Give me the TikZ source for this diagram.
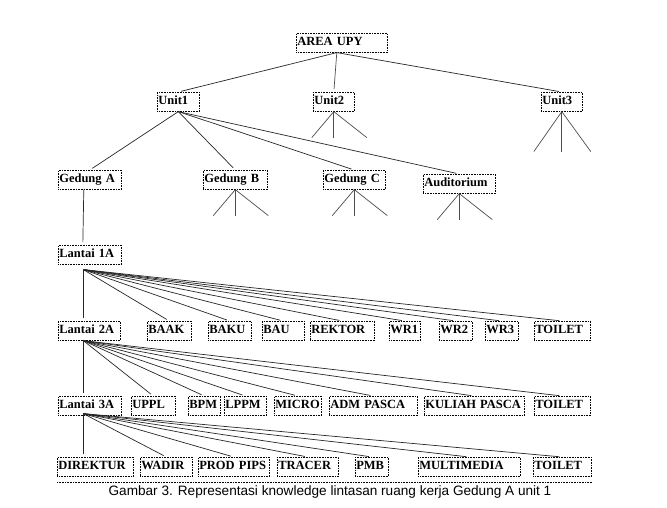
\documentclass[tikz,border=0pt]{standalone}
\usepackage{fontspec}
\setmainfont{Liberation Serif}
\newfontfamily\capfont{Liberation Sans}
\tikzset{
  ruang/.style={draw, densely dotted, line width=0.6pt, anchor=north west,
    inner xsep=1pt, inner ysep=0pt, text height=12pt, text depth=7pt,
    align=left, font=\bfseries\fontsize{12.5}{13}\selectfont},
  cabang/.style={line width=0.7pt, black!85, shorten >=3pt},
  tunas/.style={line width=0.7pt, gray!60!black},
}
\begin{document}
\begin{tikzpicture}[x=1pt, y=-1pt]
  \useasboundingbox (0,0) rectangle (667,507);
  % puncak
  \node[ruang, text width=89pt] (area) at (296,33) {AREA UPY};
  \node[ruang, text width=40pt] (u1) at (157,92) {Unit1};
  \node[ruang, text width=39pt] (u2) at (313,92) {Unit2};
  \node[ruang, text width=39pt] (u3) at (541,92) {Unit3};
  % gedung
  \node[ruang, text width=61pt] (ga) at (58,170) {Gedung A};
  \node[ruang, text width=62pt] (gb) at (203,170) {Gedung B};
  \node[ruang, text width=60pt] (gc) at (323,170) {Gedung C};
  \node[ruang, text width=70pt] (aud) at (423,174) {Auditorium};
  \node[ruang, text width=61pt] (l1a) at (58,245) {Lantai 1A};
  % lantai 2
  \node[ruang, text width=60pt] (l2a) at (58,321) {Lantai 2A};
  \node[ruang, text width=42pt] (baak) at (147,321) {BAAK};
  \node[ruang, text width=41pt] (baku) at (208,321) {BAKU};
  \node[ruang, text width=40pt] (bau) at (262,321) {BAU};
  \node[ruang, text width=62pt] (rektor) at (310,321) {REKTOR};
  \node[ruang, text width=29pt] (wr1) at (389,321) {WR1};
  \node[ruang, text width=31pt] (wr2) at (439,321) {WR2};
  \node[ruang, text width=31pt] (wr3) at (485,321) {WR3};
  \node[ruang, text width=54pt] (toilet2) at (534,321) {TOILET};
  % lantai 3
  \node[ruang, text width=61pt] (l3a) at (58,396) {Lantai 3A};
  \node[ruang, text width=42pt] (uppl) at (131,396) {UPPL};
  \node[ruang, text width=30pt] (bpm) at (188,396) {BPM};
  \node[ruang, text width=40pt] (lppm) at (224,396) {LPPM};
  \node[ruang, text width=45pt] (micro) at (274,396) {MICRO};
  \node[ruang, text width=86pt] (admp) at (329,396) {ADM PASCA};
  \node[ruang, text width=98pt] (kuliah) at (424,396) {KULIAH PASCA};
  \node[ruang, text width=54pt] (toilet3) at (534,396) {TOILET};
  % lantai 3 ruang
  \node[ruang, text width=74pt] (direktur) at (57,457) {DIREKTUR};
  \node[ruang, text width=50pt] (wadir) at (140,457) {WADIR};
  \node[ruang, text width=69pt] (prodpips) at (198,457) {PROD PIPS};
  \node[ruang, text width=59pt] (tracer) at (277,457) {TRACER};
  \node[ruang, text width=31pt] (pmb) at (355,457) {PMB};
  \node[ruang, text width=100pt] (multi) at (418,457) {MULTIMEDIA};
  \node[ruang, text width=56pt] (toilet4) at (533,457) {TOILET};
  \draw[densely dotted, line width=0.6pt] (57,482) -- (592,482);
  \node[font=\capfont\fontsize{13.6}{15}\selectfont] (judul) at (330,492)
    {Gambar 3. Representasi knowledge lintasan ruang kerja Gedung A unit 1};
  % cabang
  \coordinate (area fan) at ([xshift=-5pt]area.south);
  \draw[cabang] (area fan) -- (u1.north);
  \draw[cabang, gray!60!black] (area fan) -- (u2.north);
  \draw[cabang] (area fan) -- (u3.north);
  \foreach \c in {ga,gb,gc,aud}
    \draw[cabang] (u1.south) -- (\c.north);
  \foreach \p in {u2,gb,gc,aud}
    \foreach \dx in {-22,0,33}
      \draw[tunas] (\p.south) -- ++(\dx,26);
  \foreach \dx in {-28,0,29}
    \draw[tunas] (u3.south) -- ++(\dx,40);
  \draw[cabang] ([xshift=-6pt]ga.south) -- ([xshift=-7pt]l1a.north);
  \coordinate (l1a fan) at ([xshift=-6.5pt,yshift=-5pt]l1a.south);
  \draw[cabang] (l1a fan) -- (l1a fan |- l2a.north);
  \foreach \c in {baak,baku,bau,rektor,wr1,wr2,wr3,toilet2}
    \draw[cabang] (l1a fan) -- (\c.north);
  \coordinate (l2a fan) at ([xshift=-6pt]l2a.south);
  \draw[cabang] (l2a fan) -- (l2a fan |- l3a.north);
  \foreach \c in {uppl,bpm,lppm,micro,admp,kuliah,toilet3}
    \draw[cabang] (l2a fan) -- (\c.north);
  \coordinate (l3a fan) at ([xshift=-6.5pt,yshift=2pt]l3a.south);
  \draw[cabang] (l3a fan) -- (l3a fan |- direktur.north);
  \foreach \c in {wadir,prodpips,tracer,pmb,multi,toilet4}
    \draw[cabang] (l3a fan) -- (\c.north);
\end{tikzpicture}
\end{document}
